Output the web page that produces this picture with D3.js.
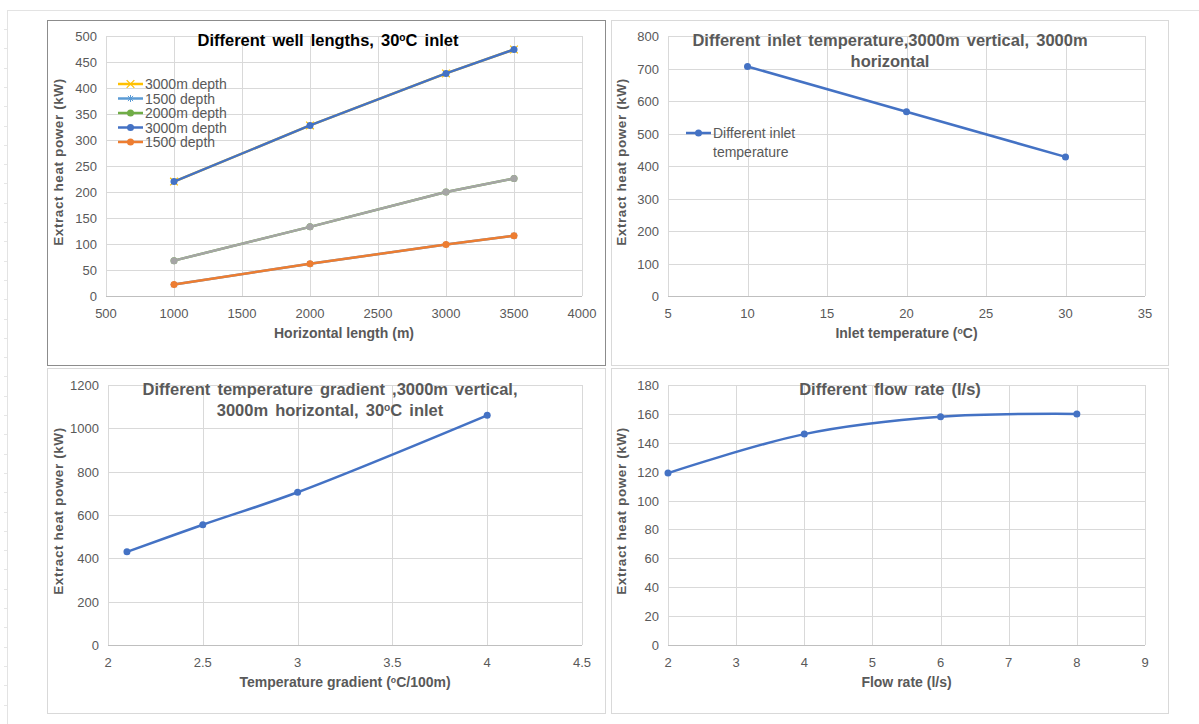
<html>
<head>
    <title>Extract heat power charts</title>
    <script src="https://d3js.org/d3.v7.min.js" charset="utf-8"></script>
    <style>
        body {
            margin: 0;
            background: #fff;
            font-family: "Liberation Sans", Arial, sans-serif;
        }
    </style>
</head>
<body>
<script>
    // chart 1: different well lengths
    var lengths = [1000, 2000, 3000, 3500];
    var depth3000 = [220, 328, 428, 474];
    var depth2000 = [68, 133, 200, 226];
    var depth1500 = [22, 62, 99, 116];
    var xTicks1 = [500, 1000, 1500, 2000, 2500, 3000, 3500, 4000];
    var yTicks1 = [0, 50, 100, 150, 200, 250, 300, 350, 400, 450, 500];

    // chart 2: inlet temperature
    var inletTemps = [10, 20, 30];
    var inletPower = [706, 567, 428];
    var xTicks2 = [5, 10, 15, 20, 25, 30, 35];
    var yTicks2 = [0, 100, 200, 300, 400, 500, 600, 700, 800];

    // chart 3: temperature gradient
    var gradients = [2.1, 2.5, 3, 4];
    var gradientPower = [430, 555, 705, 1060];
    var xTicks3 = [2, 2.5, 3, 3.5, 4, 4.5];
    var yTicks3 = [0, 200, 400, 600, 800, 1000, 1200];

    // chart 4: flow rate
    var flowRates = [2, 4, 6, 8];
    var flowPower = [119, 146, 158, 160];
    var xTicks4 = [2, 3, 4, 5, 6, 7, 8, 9];
    var yTicks4 = [0, 20, 40, 60, 80, 100, 120, 140, 160, 180];

    var width = 1199, height = 724;
    var svg = d3.select("body").append("svg")
        .attr("width", width)
        .attr("height", height);

    // faint page edges
    svg.append("line").attr("x1", 7).attr("x2", width).attr("y1", 10.5).attr("y2", 10.5)
        .attr("stroke", "#e3e3e3");
    svg.append("line").attr("x1", 7.5).attr("x2", 7.5).attr("y1", 10).attr("y2", height)
        .attr("stroke", "#e3e3e3");
    d3.range(29, height, 19.3).forEach(function(y) {
        svg.append("line").attr("x1", 4).attr("x2", 7).attr("y1", Math.round(y) + 0.5).attr("y2", Math.round(y) + 0.5)
            .attr("stroke", "#e6e6e6");
    });

    function zip(xs, ys) {
        return xs.map(function(x, i) { return [x, ys[i]]; });
    }

    function marker(g, type, x, y, color) {
        if (type == "circle") {
            g.append("circle").attr("cx", x).attr("cy", y).attr("r", 3.5).attr("fill", color);
        } else if (type == "x") {
            g.append("path").attr("d", d3.symbol().type(d3.symbolX).size(40)())
                .attr("transform", "translate(" + x + "," + y + ")")
                .attr("stroke", color).attr("stroke-width", 1.2).attr("fill", "none");
        } else if (type == "star") {
            g.append("path").attr("d", "M-3.5,0H3.5M0,-3.5V3.5M-2.6,-2.6L2.6,2.6M-2.6,2.6L2.6,-2.6")
                .attr("transform", "translate(" + x + "," + y + ")")
                .attr("stroke", color).attr("stroke-width", 1).attr("fill", "none");
        }
    }

    // write text with "o" superscripts marked as ^o
    function richText(sel, str) {
        var parts = str.split("^o");
        parts.forEach(function(p, i) {
            if (i > 0) {
                sel.append("tspan").attr("font-size", "0.62em").attr("dy", "-0.45em").text("o");
                sel.append("tspan").attr("dy", "0.28em").text(p);
            } else {
                sel.append("tspan").text(p);
            }
        });
    }

    function drawChart(c) {
        var g = svg.append("g");

        // frame
        g.append("rect")
            .attr("x", c.frame[0] + 0.5).attr("y", c.frame[1] + 0.5)
            .attr("width", c.frame[2]).attr("height", c.frame[3])
            .attr("fill", "#fff").attr("stroke", c.frameColor).attr("stroke-width", 1);

        var x = d3.scaleLinear().domain(c.xDomain).range([c.plot[0], c.plot[1]]);
        var y = d3.scaleLinear().domain(c.yDomain).range([c.plot[3], c.plot[2]]);

        // grid
        g.selectAll(".vg").data(c.xTicks).enter().append("line")
            .attr("x1", function(d) { return Math.round(x(d)) + 0.5; })
            .attr("x2", function(d) { return Math.round(x(d)) + 0.5; })
            .attr("y1", c.plot[2]).attr("y2", c.plot[3])
            .attr("stroke", "#d9d9d9");
        g.selectAll(".hg").data(c.yTicks).enter().append("line")
            .attr("x1", c.plot[0]).attr("x2", c.plot[1])
            .attr("y1", function(d) { return Math.round(y(d)) + 0.5; })
            .attr("y2", function(d) { return Math.round(y(d)) + 0.5; })
            .attr("stroke", function(d) { return d == c.yDomain[0] ? "#bfbfbf" : "#d9d9d9"; });

        // tick labels
        g.selectAll(".xl").data(c.xTicks).enter().append("text")
            .attr("x", function(d) { return x(d); })
            .attr("y", c.plot[3] + 22)
            .attr("text-anchor", "middle")
            .attr("font-size", 13).attr("fill", "#595959")
            .text(function(d) { return d; });
        g.selectAll(".yl").data(c.yTicks).enter().append("text")
            .attr("x", c.plot[0] - 9)
            .attr("y", function(d) { return y(d) + 5; })
            .attr("text-anchor", "end")
            .attr("font-size", 13).attr("fill", "#595959")
            .text(function(d) { return d; });

        // axis titles
        var xt = g.append("text")
            .attr("x", (c.plot[0] + c.plot[1]) / 2).attr("y", c.plot[3] + 42)
            .attr("text-anchor", "middle").attr("font-weight", "bold")
            .attr("font-size", 14).attr("fill", "#595959");
        richText(xt, c.xTitle);
        g.append("text")
            .attr("transform", "translate(" + c.yTitleX + "," + ((c.plot[2] + c.plot[3]) / 2 - 4) + ") rotate(-90)")
            .attr("text-anchor", "middle").attr("font-weight", "bold")
            .attr("font-size", 13.5).attr("letter-spacing", 0.6).attr("fill", "#595959")
            .text("Extract heat power (kW)");

        // series
        c.series.forEach(function(s) {
            var pts = zip(s.xs, s.ys);
            var line = d3.line()
                .x(function(d) { return x(d[0]); })
                .y(function(d) { return y(d[1]); })
                .curve(c.smooth ? d3.curveCatmullRom.alpha(0.5) : d3.curveLinear);
            g.append("path").datum(pts)
                .attr("d", line)
                .attr("fill", "none")
                .attr("stroke", s.color)
                .attr("stroke-width", 2.5)
                .attr("stroke-linejoin", "round");
            pts.forEach(function(p) {
                marker(g, s.marker, x(p[0]), y(p[1]), s.color);
            });
        });

        // title
        c.title.forEach(function(t, i) {
            var tt = g.append("text")
                .attr("x", c.titleX).attr("y", c.titleY + i * 21)
                .attr("text-anchor", "middle").attr("font-weight", "bold")
                .attr("font-size", 16.5).attr("word-spacing", 2.5)
                .attr("fill", c.titleColor);
            richText(tt, t);
        });

        // legend
        c.legend.forEach(function(l, i) {
            var ly = c.legendPos[1] + i * l.step;
            g.append("line").attr("x1", c.legendPos[0]).attr("x2", c.legendPos[0] + 25)
                .attr("y1", ly).attr("y2", ly)
                .attr("stroke", l.color).attr("stroke-width", 2.5);
            marker(g, l.marker, c.legendPos[0] + 12.5, ly, l.color);
            l.text.forEach(function(txt, j) {
                g.append("text")
                    .attr("x", c.legendPos[0] + 27).attr("y", ly + 5 + j * 19)
                    .attr("font-size", 14).attr("fill", "#595959")
                    .text(txt);
            });
        });
    }

    drawChart({
        frame: [47, 20, 558, 345], frameColor: "#8c8c8c",
        plot: [106, 582, 36, 296],
        xDomain: [500, 4000], yDomain: [0, 500],
        xTicks: xTicks1, yTicks: yTicks1,
        xTitle: "Horizontal length (m)", yTitleX: 63,
        title: ["Different  well lengths,  30^oC inlet"], titleX: 328, titleY: 46, titleColor: "#000",
        smooth: false,
        series: [
            {xs: lengths, ys: depth3000, color: "#FFC000", marker: "x"},
            {xs: lengths, ys: depth1500, color: "#5B9BD5", marker: "star"},
            {xs: lengths, ys: depth2000, color: "#70AD47", marker: "circle"},
            {xs: lengths, ys: depth2000, color: "#A5A5A5", marker: "circle"},
            {xs: lengths, ys: depth3000, color: "#4472C4", marker: "circle"},
            {xs: lengths, ys: depth1500, color: "#ED7D31", marker: "circle"}
        ],
        legendPos: [118, 84],
        legend: [
            {text: ["3000m depth"], color: "#FFC000", marker: "x", step: 14.5},
            {text: ["1500 depth"], color: "#5B9BD5", marker: "star", step: 14.5},
            {text: ["2000m depth"], color: "#70AD47", marker: "circle", step: 14.5},
            {text: ["3000m depth"], color: "#4472C4", marker: "circle", step: 14.5},
            {text: ["1500 depth"], color: "#ED7D31", marker: "circle", step: 14.5}
        ]
    });

    drawChart({
        frame: [611, 20, 557, 345], frameColor: "#d9d9d9",
        plot: [668, 1145, 36, 296],
        xDomain: [5, 35], yDomain: [0, 800],
        xTicks: xTicks2, yTicks: yTicks2,
        xTitle: "Inlet temperature (^oC)", yTitleX: 626,
        title: ["Different  inlet  temperature,3000m  vertical,  3000m", "horizontal"], titleX: 890, titleY: 46, titleColor: "#595959",
        smooth: false,
        series: [
            {xs: inletTemps, ys: inletPower, color: "#4472C4", marker: "circle"}
        ],
        legendPos: [686, 133],
        legend: [
            {text: ["Different inlet", "temperature"], color: "#4472C4", marker: "circle", step: 0}
        ]
    });

    drawChart({
        frame: [47, 368, 558, 345], frameColor: "#d9d9d9",
        plot: [108, 582, 385, 645],
        xDomain: [2, 4.5], yDomain: [0, 1200],
        xTicks: xTicks3, yTicks: yTicks3,
        xTitle: "Temperature gradient (^oC/100m)", yTitleX: 63,
        title: ["Different  temperature  gradient  ,3000m vertical,", "3000m  horizontal,  30^oC inlet"], titleX: 330, titleY: 395, titleColor: "#595959",
        smooth: true,
        series: [
            {xs: gradients, ys: gradientPower, color: "#4472C4", marker: "circle"}
        ],
        legendPos: [0, 0],
        legend: []
    });

    drawChart({
        frame: [611, 368, 557, 345], frameColor: "#d9d9d9",
        plot: [668, 1145, 385, 645],
        xDomain: [2, 9], yDomain: [0, 180],
        xTicks: xTicks4, yTicks: yTicks4,
        xTitle: "Flow rate (l/s)", yTitleX: 626,
        title: ["Different  flow rate (l/s)"], titleX: 890, titleY: 395, titleColor: "#595959",
        smooth: true,
        series: [
            {xs: flowRates, ys: flowPower, color: "#4472C4", marker: "circle"}
        ],
        legendPos: [0, 0],
        legend: []
    });
</script>
</body>
</html>
